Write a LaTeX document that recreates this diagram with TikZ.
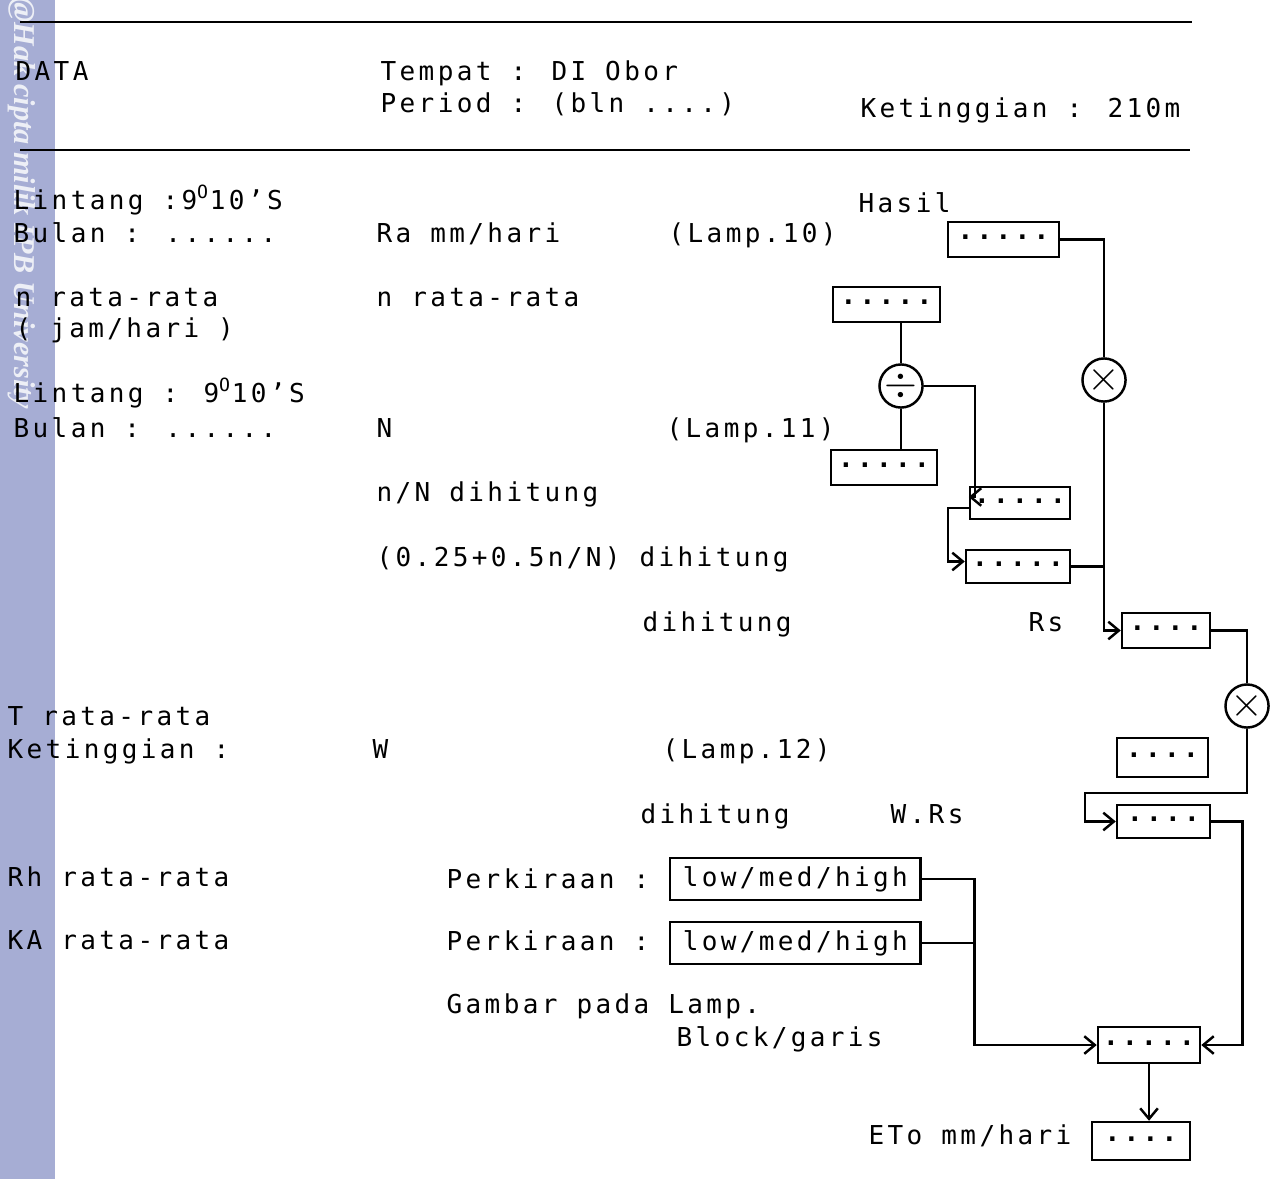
\documentclass[tikz,border=0pt]{standalone}
\usepackage{fontspec}
\usepackage{xcolor}
\usetikzlibrary{arrows.meta,calc}
\newfontfamily\ketik[LetterSpace=12.9]{DejaVu Sans Mono}
\newfontfamily\wmfont{Liberation Serif}
\definecolor{pita}{RGB}{166,173,212}
\tikzset{
  teks/.style={anchor=base west,inner sep=0pt,font=\ketik\fontsize{7.4}{9}\selectfont},
  kotak/.style={draw,line width=0.7pt,minimum height=0.35cm,text height=0pt,text depth=0pt,inner sep=0pt,font=\ketik\bfseries\fontsize{7.4}{9}\selectfont},
  pilih/.style={draw,line width=0.7pt,anchor=west,minimum width=2.5cm,minimum height=0.42cm,inner sep=0pt,font=\ketik\fontsize{7.4}{9}\selectfont},
  bulat/.style={circle,draw,line width=0.7pt,inner sep=0pt,font=\large},
  garis/.style={line width=0.7pt},
  panah/.style={line width=0.7pt,-{Straight Barb[length=3pt,width=5pt]}}
}

\begin{document}
\begin{tikzpicture}[x=0.01cm,y=-0.01cm]
\useasboundingbox (0,0) rectangle (1280,1179);
% pita
\fill[pita] (0,0) rectangle (55,1179);
\begin{scope}
\clip (0,0) rectangle (55,1179);
\node[rotate=-90,anchor=west,inner sep=0pt,text=white!80!pita,font=\wmfont\bfseries\itshape\fontsize{8.6}{10}\selectfont] (hakcipta) at (22,-3) {@Hak cipta milik IPB University};
\end{scope}
% kepala
\draw[thick] (20,22) -- (1192,22);
\draw[thick] (20,150) -- (1190,150);
\node[teks] (data) at (15,81) {DATA};
\node[teks] (tempat) at (380,81) {Tempat : DI Obor};
\node[teks] (periode) at (380,113) {Period : (bln ....)};
\node[teks] (tinggi) at (860,117) {Ketinggian : 210m};
% Ra
\node[teks] (lin1) at (13,209) {Lintang :9\textsuperscript{O}10’S};
\node[teks] (bln1) at (13,242) {Bulan : ......};
\node[teks] (ra) at (376,242) {Ra mm/hari};
\node[teks] (lamp10) at (668,242) {(Lamp.10)};
\node[teks] (hasil) at (858,212) {Hasil};
% n
\node[teks] (nrata) at (15,306) {n rata-rata};
\node[teks] (jam) at (15,337) {( jam/hari )};
\node[teks] (nrata2) at (376,306) {n rata-rata};
% N
\node[teks] (lin2) at (13,402) {Lintang : 9\textsuperscript{O}10’S};
\node[teks] (bln2) at (13,437) {Bulan : ......};
\node[teks] (nbesar) at (376,437) {N};
\node[teks] (lamp11) at (666,437) {(Lamp.11)};
\node[teks] (rasio) at (376,501) {n/N dihitung};
\node[teks] (faktor) at (376,566) {(0.25+0.5n/N) dihitung};
\node[teks] (hit1) at (642,631) {dihitung};
\node[teks] (rs) at (1028,631) {Rs};
% W
\node[teks] (trata) at (7,725) {T rata-rata};
\node[teks] (tinggi2) at (7,758) {Ketinggian :};
\node[teks] (w) at (372,758) {W};
\node[teks] (lamp12) at (662,758) {(Lamp.12)};
\node[teks] (hit2) at (640,823) {dihitung};
\node[teks] (wrs) at (890,823) {W.Rs};
% Rh dan KA
\node[teks] (rhrata) at (7,886) {Rh rata-rata};
\node[teks] (kira1) at (446,888) {Perkiraan :};
\node[pilih] (rh) at (669,879) {low/med/high};
\node[teks] (karata) at (7,949) {KA rata-rata};
\node[teks] (kira2) at (446,950) {Perkiraan :};
\node[pilih] (ka) at (669,943) {low/med/high};
\node[teks] (gambar) at (446,1013) {Gambar pada Lamp.};
\node[teks] (blok) at (676,1046) {Block/garis};
\node[teks] (etolbl) at (868,1144) {ETo mm/hari};
% kotak hasil
\node[kotak,minimum width=1.11cm] (b1) at (1003.5,239.5) {.....};
\node[kotak,minimum width=1.07cm] (b2) at (886.5,304.5) {.....};
\node[kotak,minimum width=1.06cm] (b3) at (884,467.5) {.....};
\node[kotak,minimum width=1.00cm,minimum height=0.32cm] (b4) at (1020,503) {.....};
\node[kotak,minimum width=1.04cm,minimum height=0.33cm] (b5) at (1018,566.5) {.....};
\node[kotak,minimum width=0.88cm] (b6) at (1166,630.5) {....};
\node[kotak,minimum width=0.91cm,minimum height=0.39cm] (b7) at (1162.5,757.5) {....};
\node[kotak,minimum width=0.93cm,minimum height=0.33cm] (b8) at (1163.5,821.5) {....};
\node[kotak,minimum width=1.02cm,minimum height=0.36cm] (b9) at (1149,1045) {.....};
\node[kotak,minimum width=0.98cm,minimum height=0.38cm] (eto) at (1141,1141) {....};
\node[bulat,minimum size=0.32cm] (bagi) at (901,386) {$\div$};
\node[bulat,minimum size=0.38cm] (k1) at (1104,380) {$\times$};
\node[bulat,minimum size=0.40cm] (k2) at (1247,706) {$\times$};
% jalur Ra
\draw[garis] (b1.east) -| (k1.north);
\draw[panah] (k1.south) |- (b6.west);
\draw[garis] (b5.east) -- (b5.east -| k1.south);
% jalur n/N
\draw[garis] (bagi.north) -- (bagi.north |- b2.south);
\draw[garis] (bagi.south) -- (bagi.south |- b3.north);
\draw[panah] (bagi.east) -- ++(51,0) |- ($(b4.west)+(0,-6)$);
\draw[panah] ($(b4.west)+(0,5)$) -- ++(-21,0) |- ($(b5.west)+(0,-5)$);
% jalur Rs
\draw[garis] (b6.east) -| (k2.north);
\draw[panah] (k2.south) -- ++(0,64) -- ++(-162,0) |- (b8.west);
\draw[panah] (b8.east) -- ++(31,0) |- (b9.east);
% jalur Rh dan KA
\coordinate (sambung) at ($(rh.east)+(53,0)$);
\draw[panah] (rh.east) -- (sambung) |- (b9.west);
\draw[garis] (ka.east) -- (ka.east -| sambung);
\draw[panah] (b9.south) -- (b9.south |- eto.north);
\end{tikzpicture}
\end{document}
